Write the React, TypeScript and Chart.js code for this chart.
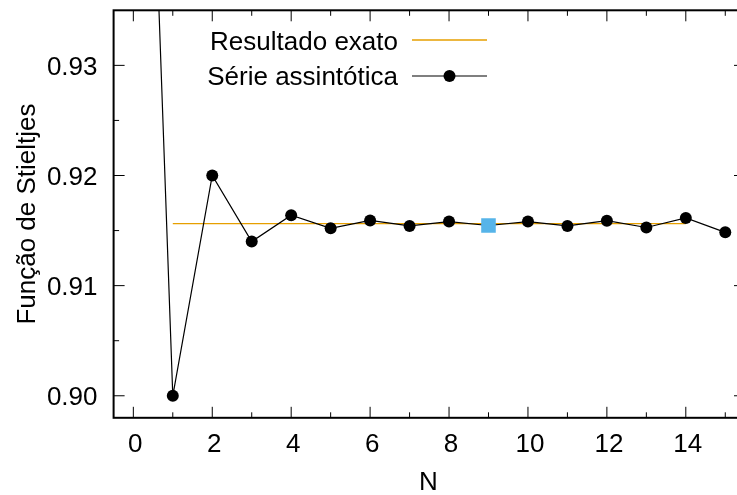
import React, { useEffect, useRef } from "react";
import { Chart, registerables } from "chart.js";

Chart.register(...registerables);

// Number of terms kept in the asymptotic series
const termCounts = [0, 1, 2, 3, 4, 5, 6, 7, 8, 9, 10, 11, 12, 13, 14, 15];
// Partial sums of the asymptotic series
const seriesValues = [
  1.0, 0.9, 0.92, 0.914, 0.9164, 0.9152, 0.91592, 0.91542, 0.91582, 0.91546,
  0.91582, 0.91542, 0.9159, 0.91528, 0.91615, 0.91484,
];
// Exact value of the Stieltjes function, drawn over this range of N
const exactRange = [1, 14];
const exactValue = 0.91563;
// Optimal truncation point, highlighted with a square
const optimalN = 9;

const xRange = [-0.5, 15.5];
const yRange = [0.898, 0.935];
const xTickValues = [0, 2, 4, 6, 8, 10, 12, 14];
const xTickLabels = ["0", "2", "4", "6", "8", "10", "12", "14"];
const xMinorValues = [1, 3, 5, 7, 9, 11, 13, 15];
const yTickValues = [0.9, 0.91, 0.92, 0.93];
const yTickLabels = ["0.90", "0.91", "0.92", "0.93"];
const yMinorValues = [0.905, 0.915, 0.925];

const xTitle = "N";
const yTitle = "Função de Stieltjes";
const legendLabels = ["Resultado exato", "Série assintótica"];

const EXACT_COLOR = "#E69F00";
const SERIES_COLOR = "#000000";
const OPTIMAL_COLOR = "#56B4E9";
const FONT = '26px "Liberation Sans", Arial, Helvetica, sans-serif';

// Frame, inward ticks, labels and key drawn gnuplot-style
const framePlugin = {
  id: "gnuplotFrame",
  afterDraw(chart: any) {
    const { ctx, chartArea: a, scales } = chart;
    const xs = scales.x;
    const ys = scales.y;
    const major = 11;
    const minor = 5.5;

    ctx.save();
    ctx.strokeStyle = "#000";
    ctx.lineWidth = 1;
    ctx.beginPath();
    const vTick = (v: number, len: number) => {
      const px = xs.getPixelForValue(v);
      if (px <= a.left + 1 || px >= a.right - 1) return;
      ctx.moveTo(px, a.bottom);
      ctx.lineTo(px, a.bottom - len);
      ctx.moveTo(px, a.top);
      ctx.lineTo(px, a.top + len);
    };
    const hTick = (v: number, len: number) => {
      const py = ys.getPixelForValue(v);
      if (py <= a.top + 1 || py >= a.bottom - 1) return;
      ctx.moveTo(a.left, py);
      ctx.lineTo(a.left + len, py);
      ctx.moveTo(a.right, py);
      ctx.lineTo(a.right - len, py);
    };
    xTickValues.forEach((v) => vTick(v, major));
    xMinorValues.forEach((v) => vTick(v, minor));
    yTickValues.forEach((v) => hTick(v, major));
    yMinorValues.forEach((v) => hTick(v, minor));
    ctx.stroke();

    // border
    ctx.lineWidth = 2;
    ctx.strokeRect(a.left, a.top, a.right - a.left, a.bottom - a.top);

    // tick labels
    ctx.fillStyle = "#000";
    ctx.font = FONT;
    ctx.textBaseline = "alphabetic";
    ctx.textAlign = "center";
    xTickValues.forEach((v, i) => {
      ctx.fillText(xTickLabels[i], xs.getPixelForValue(v) + 2, a.bottom + 34);
    });
    ctx.textAlign = "right";
    yTickValues.forEach((v, i) => {
      ctx.fillText(yTickLabels[i], 97.5, ys.getPixelForValue(v) + 9.3);
    });

    // axis titles
    ctx.textAlign = "center";
    ctx.fillText(xTitle, (a.left + a.right) / 2 - 1, 489.5);
    ctx.save();
    ctx.translate(34.5, (a.top + a.bottom) / 2);
    ctx.rotate(-Math.PI / 2);
    ctx.fillText(yTitle, 0, 0);
    ctx.restore();

    // key
    ctx.textAlign = "right";
    ctx.fillText(legendLabels[0], 398, 49.5);
    ctx.fillText(legendLabels[1], 398, 84.8);
    ctx.lineWidth = 1.3;
    ctx.strokeStyle = EXACT_COLOR;
    ctx.beginPath();
    ctx.moveTo(412, 40);
    ctx.lineTo(487, 40);
    ctx.stroke();
    ctx.strokeStyle = SERIES_COLOR;
    ctx.lineWidth = 1.2;
    ctx.beginPath();
    ctx.moveTo(412, 76);
    ctx.lineTo(487, 76);
    ctx.stroke();
    ctx.fillStyle = SERIES_COLOR;
    ctx.beginPath();
    ctx.arc(449.5, 76, 6, 0, Math.PI * 2);
    ctx.fill();
    ctx.restore();
  },
};

export default function App() {
  const canvasRef = useRef<HTMLCanvasElement | null>(null);

  useEffect(() => {
    const canvas = canvasRef.current;
    if (!canvas) return;

    const seriesPoints = termCounts.map((n, i) => ({ x: n, y: seriesValues[i] }));
    const exactPoints = exactRange.map((n) => ({ x: n, y: exactValue }));
    const optimalPoints = [{ x: optimalN, y: seriesValues[termCounts.indexOf(optimalN)] }];

    const chart = new Chart(canvas, {
      type: "line",
      data: {
        datasets: [
          {
            label: "optimal",
            data: optimalPoints,
            showLine: false,
            pointStyle: "rect",
            pointRadius: 10.3,
            pointBackgroundColor: OPTIMAL_COLOR,
            pointBorderWidth: 0,
            order: 0,
          },
          {
            label: legendLabels[1],
            data: seriesPoints,
            borderColor: SERIES_COLOR,
            borderWidth: 1.2,
            pointRadius: 6,
            pointBackgroundColor: SERIES_COLOR,
            pointBorderWidth: 0,
            tension: 0,
            clip: 0,
            order: 1,
          },
          {
            label: legendLabels[0],
            data: exactPoints,
            borderColor: EXACT_COLOR,
            borderWidth: 1.3,
            pointRadius: 0,
            tension: 0,
            clip: 0,
            order: 2,
          },
        ],
      },
      options: {
        animation: false,
        responsive: false,
        devicePixelRatio: 1,
        layout: { padding: { left: 113.6, right: 760 - 745, top: 9.5, bottom: 495 - 417.8 } },
        plugins: { legend: { display: false }, tooltip: { enabled: false } },
        events: [],
        scales: {
          x: { type: "linear", min: xRange[0], max: xRange[1], display: false },
          y: { type: "linear", min: yRange[0], max: yRange[1], display: false },
        },
      },
      plugins: [framePlugin],
    });

    return () => chart.destroy();
  }, []);

  return (
    <div
      style={{
        position: "fixed",
        left: 0,
        top: 0,
        width: 737,
        height: 495,
        overflow: "hidden",
        background: "#fff",
      }}
    >
      <canvas ref={canvasRef} width={760} height={495} style={{ display: "block" }} />
    </div>
  );
}
